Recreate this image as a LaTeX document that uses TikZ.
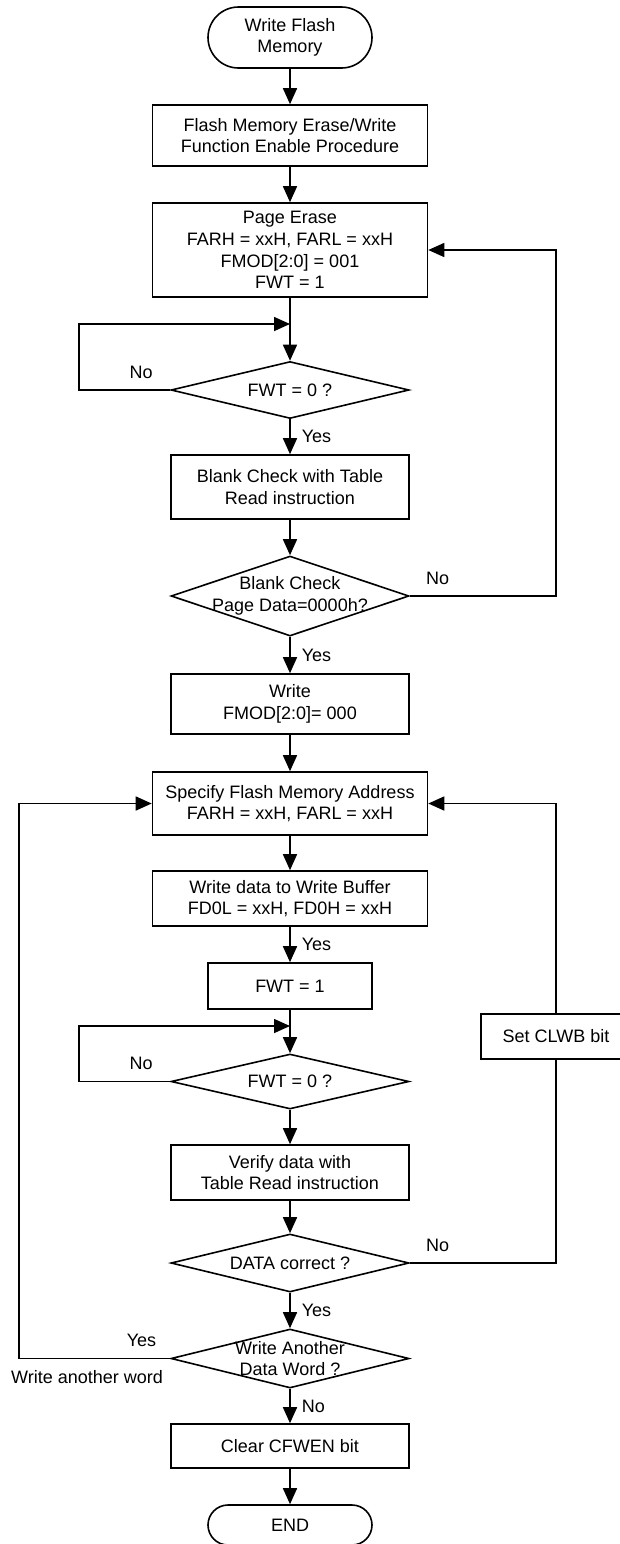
\documentclass[tikz,border=0pt]{standalone}
\usepackage{fontspec}
\setmainfont{Liberation Sans}
\usetikzlibrary{shapes.geometric,shapes.misc,arrows.meta}

\begin{document}
\begin{tikzpicture}[x=0.5pt,y=0.5pt,>={Triangle[length=8pt,width=7pt]},
    font=\fontsize{9}{10.8}\selectfont,
    terminal/.style={rounded rectangle, draw, thick, align=center, minimum width=82pt, inner sep=0pt},
    boite/.style={rectangle, draw, thick, align=center, inner sep=0pt},
    test/.style={diamond, draw, thick, align=center, aspect=3, inner sep=-4pt, minimum width=119pt},
    lbl/.style={inner sep=5.5pt, align=center}]
    \useasboundingbox (0,0) rectangle (620,-1544);

    % Blocs
    \node[terminal, minimum height=30.5pt] (start) at (290,-37.5) {Write Flash\\Memory};
    \node[boite, minimum width=137.5pt, minimum height=30.5pt] (enable) at (290,-135.5) {Flash Memory Erase/Write\\Function Enable Procedure};
    \node[boite, minimum width=137.5pt, minimum height=47pt] (erase) at (290,-250) {Page Erase\\FARH = xxH, FARL = xxH\\FMOD[2:0] = 001\\FWT = 1};
    \node[test, minimum height=28.5pt] (wait1) at (290,-390) {FWT = 0 ?};
    \node[boite, minimum width=119pt, minimum height=32pt] (blank) at (290,-487) {Blank Check with Table\\Read instruction};
    \node[test, minimum height=40pt] (isblank) at (290,-596) {Blank Check\\Page Data=0000h?};
    \node[boite, minimum width=119pt, minimum height=30pt] (write) at (290,-704) {Write\\FMOD[2:0]= 000};
    \node[boite, minimum width=137.5pt, minimum height=31.5pt] (addr) at (290,-803.5) {Specify Flash Memory Address\\FARH = xxH, FARL = xxH};
    \node[boite, minimum width=137.5pt, minimum height=27.5pt] (buffer) at (290,-898.5) {Write data to Write Buffer\\FD0L = xxH, FD0H = xxH};
    \node[boite, minimum width=82pt, minimum height=23pt] (fwt) at (290,-986) {FWT = 1};
    \node[test, minimum height=27.5pt] (wait2) at (290,-1081.5) {FWT = 0 ?};
    \node[boite, minimum width=119pt, minimum height=27.5pt] (verify) at (290,-1172.5) {Verify data with\\Table Read instruction};
    \node[test, minimum height=29pt] (correct) at (290,-1263) {DATA correct ?};
    \node[test, minimum height=29.5pt] (another) at (290,-1358.5) {Write Another\\Data Word ?};
    \node[boite, minimum width=119pt, minimum height=22pt] (clear) at (290,-1446) {Clear CFWEN bit};
    \node[terminal, minimum height=20pt] (end) at (290,-1525) {END};
    \node[boite, minimum width=75pt, minimum height=22.5pt] (clwb) at (556,-1036.5) {Set CLWB bit};

    % Points de retour
    \coordinate (j1) at (290,-324);
    \coordinate (j2) at (290,-1026);
    \coordinate (boucle) at (79,0);
    \coordinate (droite) at (556,0);
    \coordinate (gauche) at (19,-803.5);

    % Fleches
    \draw[->, thick] (start) -- (enable);
    \draw[->, thick] (enable) -- (erase);
    \draw[->, thick] (erase) -- (wait1);
    \draw[->, thick] (wait1.west) -- node[lbl, pos=.32, above] {No} (wait1.west -| boucle) |- (j1);
    \draw[->, thick] (wait1) -- node[lbl, right] {Yes} (blank);
    \draw[->, thick] (blank) -- (isblank);
    \draw[->, thick] (isblank.east) -- node[lbl, pos=.19, above] {No} (isblank.east -| droite) |- (erase.east);
    \draw[->, thick] (isblank) -- node[lbl, right] {Yes} (write);
    \draw[->, thick] (write) -- (addr);
    \draw[->, thick] (addr) -- (buffer);
    \draw[->, thick] (buffer) -- node[lbl, right] {Yes} (fwt);
    \draw[->, thick] (fwt) -- (wait2);
    \draw[->, thick] (wait2.west) -- node[lbl, pos=.32, above] {No} (wait2.west -| boucle) |- (j2);
    \draw[->, thick] (wait2) -- (verify);
    \draw[->, thick] (verify) -- (correct);
    \draw[thick] (correct.east) -- node[lbl, pos=.19, above] {No} (correct.east -| clwb) -- (clwb.south);
    \draw[->, thick] (clwb.north) |- (addr.east);
    \draw[->, thick] (correct) -- node[lbl, right] {Yes} (another);
    \draw[->, thick] (another.west) -- node[lbl, pos=.19, above] {Yes} node[lbl, pos=.55, below] {Write another word} (another.west -| gauche) -- (gauche) -- (addr.west);
    \draw[->, thick] (another) -- node[lbl, right] {No} (clear);
    \draw[->, thick] (clear) -- (end);
\end{tikzpicture}
\end{document}
